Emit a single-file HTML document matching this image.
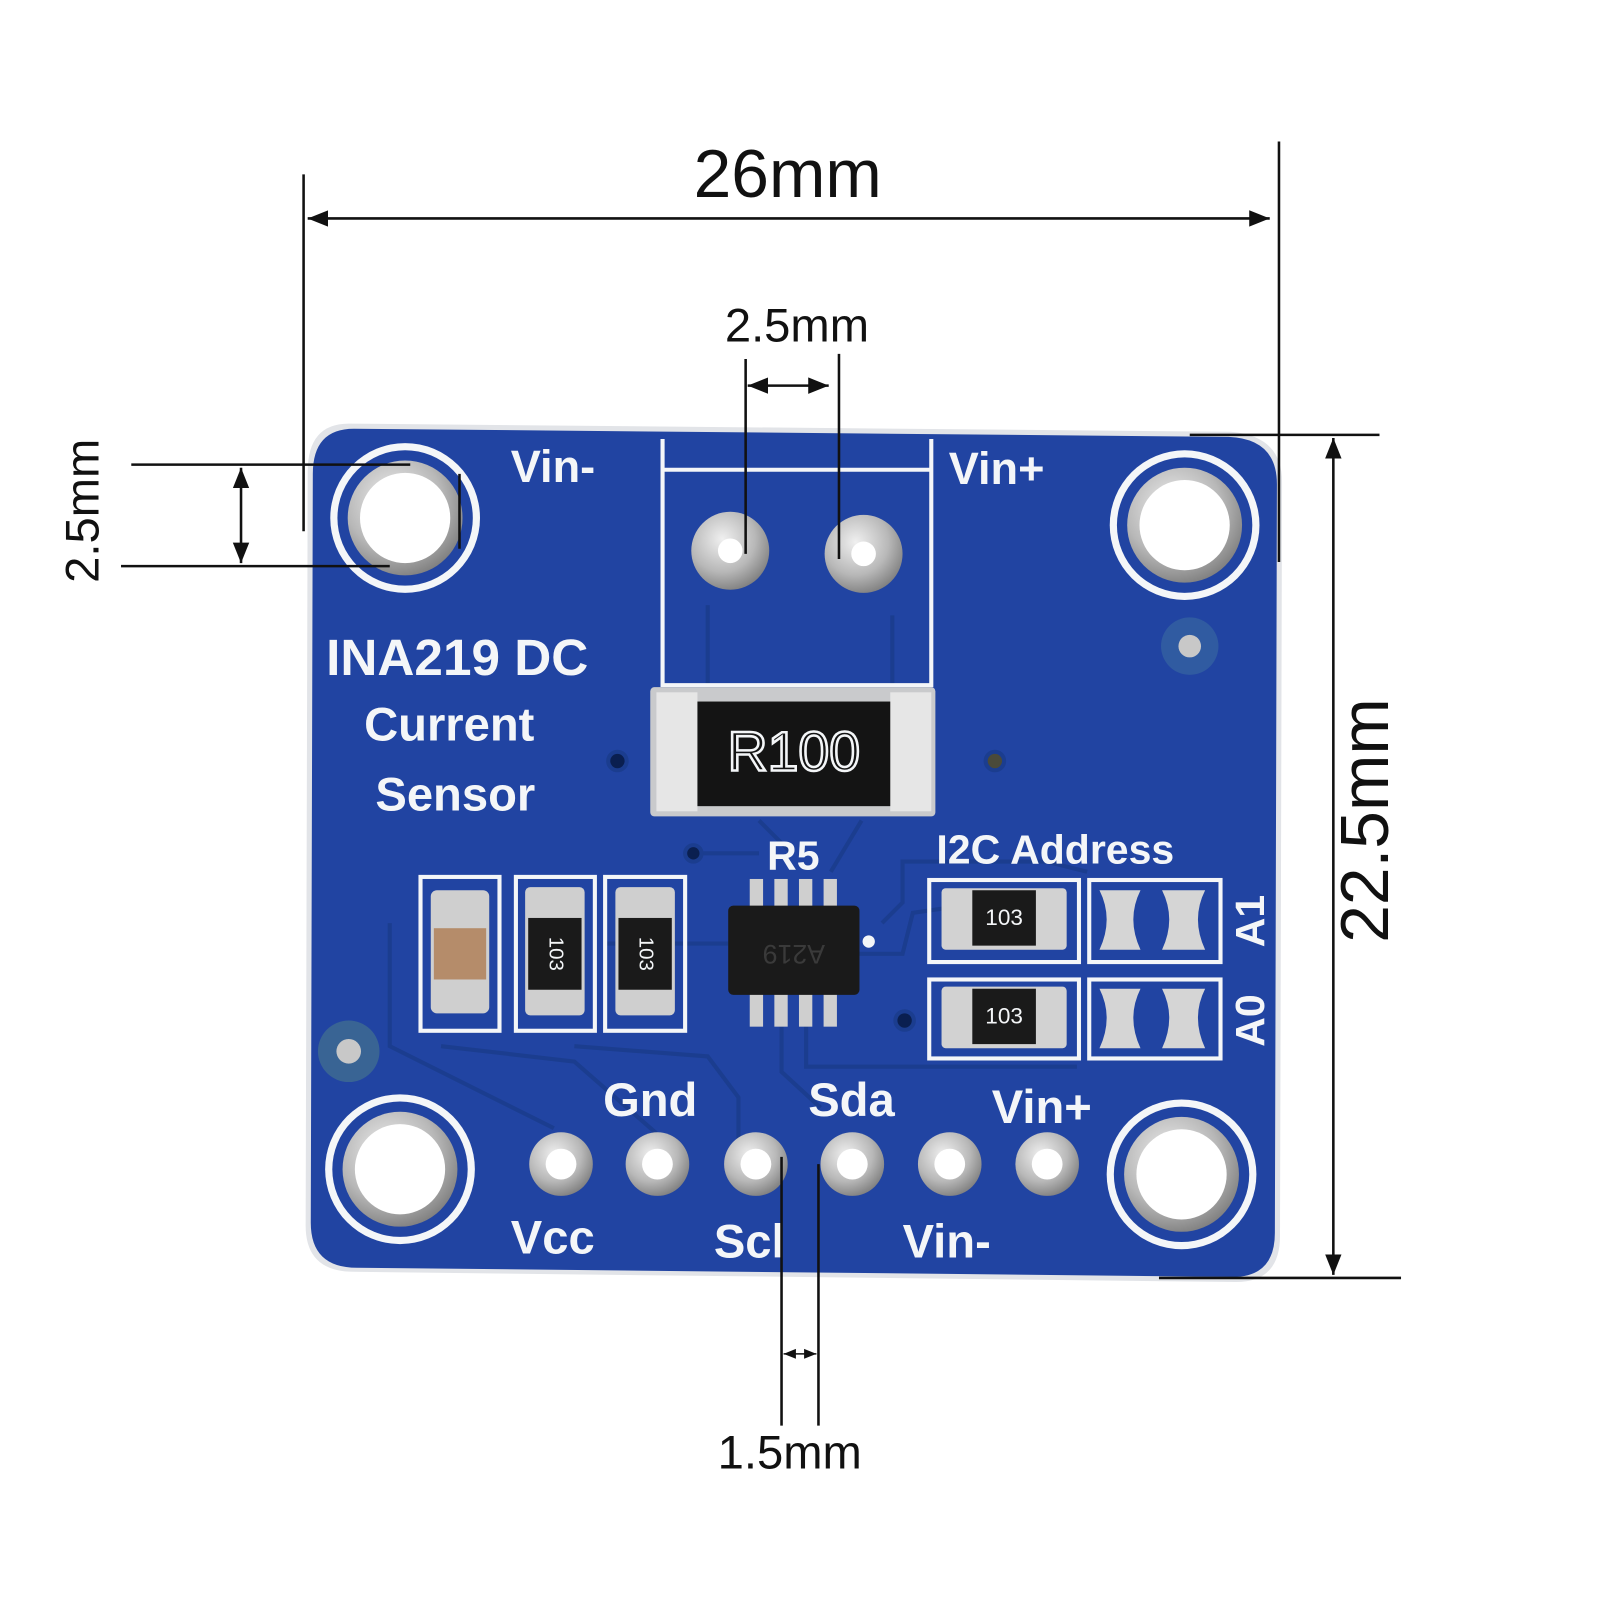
<!DOCTYPE html>
<html><head><meta charset="utf-8"><style>
html,body{margin:0;padding:0;background:#fff;}
svg{display:block}
.s{fill:#f4f6f8;font-family:"Liberation Sans",sans-serif;font-weight:bold}
.d{fill:#111;font-family:"Liberation Sans",sans-serif}
</style></head><body>
<svg width="1600" height="1600" viewBox="0 0 1560 1560" xmlns="http://www.w3.org/2000/svg">
<defs>
<radialGradient id="silver" cx="40%" cy="35%" r="70%"><stop offset="0" stop-color="#f0f0f0"/><stop offset="0.6" stop-color="#b8b8b8"/><stop offset="1" stop-color="#7c7c7c"/></radialGradient>
<marker id="ar" viewBox="0 0 10 10" refX="10" refY="5" markerWidth="8" markerHeight="8" orient="auto-start-reverse"><path d="M0,1 L10,5 L0,9 z" fill="#111"/></marker>
</defs>
<rect width="1560" height="1560" fill="#fff"/>
<path d="M340,413 L1200,421 Q1250,425 1250,470 L1248,1205 Q1248,1250 1205,1250 L345,1240 Q298,1240 298,1195 L300,460 Q300,413 340,413 Z" fill="#e2e4e8"/>
<path d="M345,418 L1198,426 Q1245,428 1245,472 L1243,1202 Q1243,1245 1202,1245 L348,1236 Q303,1236 303,1192 L305,462 Q305,418 345,418 Z" fill="#2144a2"/>
<g fill="none" stroke="#1b3d8f" stroke-width="4">
<path d="M380,900 L380,1020 L540,1100"/><path d="M430,1020 L560,1035 L640,1105"/>
<path d="M560,1020 L690,1030 L720,1070 L720,1110"/><path d="M762,1000 L762,1045 L800,1080"/>
<path d="M786,1000 L786,1040 L900,1040 L1050,1040"/><path d="M690,720 L690,600 L690,590 M870,600 L870,700"/>
<path d="M740,800 L770,830 M840,800 L810,850"/><path d="M860,900 L880,880 L880,840 L1020,840 L1060,850"/>
<path d="M838,930 L880,930 L890,890 L1030,870"/><path d="M670,832 L740,832"/><path d="M590,920 L710,920"/>
</g>
<g>
<g transform="translate(395,505)"><circle r="73" fill="#f4f6f8"/><circle r="66" fill="#2144a2"/><circle r="56" fill="url(#silver)"/><circle r="44" fill="#fff"/></g>
<g transform="translate(1155,512)"><circle r="73" fill="#f4f6f8"/><circle r="66" fill="#2144a2"/><circle r="56" fill="url(#silver)"/><circle r="44" fill="#fff"/></g>
<g transform="translate(390,1140)"><circle r="73" fill="#f4f6f8"/><circle r="66" fill="#2144a2"/><circle r="56" fill="url(#silver)"/><circle r="44" fill="#fff"/></g>
<g transform="translate(1152,1145)"><circle r="73" fill="#f4f6f8"/><circle r="66" fill="#2144a2"/><circle r="56" fill="url(#silver)"/><circle r="44" fill="#fff"/></g>
</g>
<g>
<circle cx="1160" cy="630" r="28" fill="#3a6aa0" opacity="0.6"/><circle cx="1160" cy="630" r="11" fill="#c8c8c8"/>
<circle cx="340" cy="1025" r="30" fill="#4a7a8a" opacity="0.6"/><circle cx="340" cy="1025" r="12" fill="#c8c8c8"/>
<circle cx="602" cy="742" r="9" fill="#0a1f50" stroke="#1b3d8f" stroke-width="4"/>
<circle cx="970" cy="742" r="9" fill="#4a4a3a" stroke="#1b3d8f" stroke-width="4"/>
<circle cx="676" cy="832" r="8" fill="#0a1f50" stroke="#1b3d8f" stroke-width="4"/>
<circle cx="882" cy="995" r="9" fill="#0a1f50" stroke="#1b3d8f" stroke-width="4"/>
<circle cx="847" cy="918" r="6" fill="#f4f6f8"/>
</g>
<path d="M646,428 L646,668 L908,668 L908,428 M646,458 L908,458" fill="none" stroke="#f4f6f8" stroke-width="4"/>
<circle cx="712" cy="537" r="38" fill="url(#silver)"/><circle cx="712" cy="537" r="12" fill="#fff"/>
<circle cx="842" cy="540" r="38" fill="url(#silver)"/><circle cx="842" cy="540" r="12" fill="#fff"/>
<rect x="634" y="670" width="278" height="126" rx="4" fill="#c9cacc"/>
<rect x="640" y="675" width="40" height="116" fill="#e6e6e6"/><rect x="868" y="675" width="40" height="116" fill="#e6e6e6"/>
<rect x="680" y="684" width="188" height="102" fill="#141414"/>
<text x="774" y="737" fill="none" stroke="#f4f6f8" stroke-width="2.5" font-family="Liberation Sans,sans-serif" font-size="54" text-anchor="middle" dominant-baseline="middle">R100</text>
<g fill="none" stroke="#f4f6f8" stroke-width="4">
<rect x="410" y="855" width="77" height="150"/><rect x="503" y="855" width="77" height="150"/><rect x="590" y="855" width="78" height="150"/>
<rect x="906" y="858" width="146" height="80"/><rect x="1062" y="858" width="128" height="80"/>
<rect x="906" y="955" width="146" height="77"/><rect x="1062" y="955" width="128" height="77"/>
</g>
<rect x="420" y="868" width="57" height="120" rx="6" fill="#cfcfcf"/><rect x="423" y="905" width="51" height="50" fill="#b58c6a"/>
<rect x="512" y="865" width="58" height="125" rx="5" fill="#cfcfcf"/><rect x="515" y="895" width="52" height="70" fill="#1a1a1a"/>
<text x="541" y="930" class="s" font-size="20" style="font-weight:normal" text-anchor="middle" dominant-baseline="middle" transform="rotate(90 541 930)">103</text>
<rect x="600" y="865" width="58" height="125" rx="5" fill="#cfcfcf"/><rect x="603" y="895" width="52" height="70" fill="#1a1a1a"/>
<text x="629" y="930" class="s" font-size="20" style="font-weight:normal" text-anchor="middle" dominant-baseline="middle" transform="rotate(90 629 930)">103</text>
<rect x="918" y="866" width="122" height="60" rx="4" fill="#d2d2d2"/><rect x="948" y="868" width="62" height="54" fill="#1a1a1a"/>
<text x="979" y="896" class="s" font-size="22" style="font-weight:normal" text-anchor="middle" dominant-baseline="middle">103</text>
<rect x="918" y="962" width="122" height="60" rx="4" fill="#d2d2d2"/><rect x="948" y="964" width="62" height="54" fill="#1a1a1a"/>
<text x="979" y="992" class="s" font-size="22" style="font-weight:normal" text-anchor="middle" dominant-baseline="middle">103</text>
<g fill="#d5d5d5">
<path d="M1072,868 h40 q-14,28 0,58 h-40 q14,-30 0,-58z"/><path d="M1133,868 h42 q-14,28 0,58 h-42 q14,-30 0,-58z"/>
<path d="M1072,964 h40 q-14,28 0,58 h-40 q14,-30 0,-58z"/><path d="M1133,964 h42 q-14,28 0,58 h-42 q14,-30 0,-58z"/>
</g>
<g fill="#cfcfcf">
<rect x="731" y="857" width="13" height="30"/><rect x="755" y="857" width="13" height="30"/><rect x="779" y="857" width="13" height="30"/><rect x="803" y="857" width="13" height="30"/>
<rect x="731" y="968" width="13" height="33"/><rect x="755" y="968" width="13" height="33"/><rect x="779" y="968" width="13" height="33"/><rect x="803" y="968" width="13" height="33"/>
</g>
<rect x="710" y="883" width="128" height="87" rx="5" fill="#1a1a1a"/>
<text x="774" y="928" font-family="Liberation Sans,sans-serif" font-size="26" fill="#3a3a3a" text-anchor="middle" dominant-baseline="middle" transform="rotate(180 774 928)">A219</text>
<g>
<g transform="translate(547,1135)"><circle r="31" fill="url(#silver)"/><circle r="15" fill="#fff"/></g>
<g transform="translate(641,1135)"><circle r="31" fill="url(#silver)"/><circle r="15" fill="#fff"/></g>
<g transform="translate(737,1135)"><circle r="31" fill="url(#silver)"/><circle r="15" fill="#fff"/></g>
<g transform="translate(831,1135)"><circle r="31" fill="url(#silver)"/><circle r="15" fill="#fff"/></g>
<g transform="translate(926,1135)"><circle r="31" fill="url(#silver)"/><circle r="15" fill="#fff"/></g>
<g transform="translate(1021,1135)"><circle r="31" fill="url(#silver)"/><circle r="15" fill="#fff"/></g>
</g>
<text x="498" y="470" class="s" font-size="44">Vin-</text>
<text x="925" y="472" class="s" font-size="44">Vin+</text>
<text x="318" y="658" class="s" font-size="50">INA219 DC</text>
<text x="355" y="722" class="s" font-size="46">Current</text>
<text x="366" y="790" class="s" font-size="46">Sensor</text>
<text x="748" y="848" class="s" font-size="40">R5</text>
<text x="913" y="842" class="s" font-size="40">I2C Address</text>
<text x="1222" y="898" class="s" font-size="40" text-anchor="middle" dominant-baseline="middle" transform="rotate(-90 1222 898)">A1</text>
<text x="1222" y="995" class="s" font-size="40" text-anchor="middle" dominant-baseline="middle" transform="rotate(-90 1222 995)">A0</text>
<text x="588" y="1088" class="s" font-size="46">Gnd</text>
<text x="788" y="1088" class="s" font-size="46">Sda</text>
<text x="967" y="1095" class="s" font-size="46">Vin+</text>
<text x="498" y="1222" class="s" font-size="46">Vcc</text>
<text x="696" y="1226" class="s" font-size="46">Scl</text>
<text x="880" y="1226" class="s" font-size="46">Vin-</text>
<g stroke="#111" stroke-width="2.5" fill="none">
<line x1="296" y1="170" x2="296" y2="518"/><line x1="1247" y1="138" x2="1247" y2="548"/>
<line x1="300" y1="213" x2="1238" y2="213" marker-start="url(#ar)" marker-end="url(#ar)"/>
<line x1="727" y1="350" x2="727" y2="540"/><line x1="818" y1="345" x2="818" y2="545"/>
<line x1="729" y1="376" x2="808" y2="376" marker-start="url(#ar)" marker-end="url(#ar)"/>
<line x1="128" y1="453" x2="400" y2="453"/><line x1="118" y1="552" x2="380" y2="552"/>
<line x1="235" y1="456" x2="235" y2="549" marker-start="url(#ar)" marker-end="url(#ar)"/>
<line x1="448" y1="462" x2="448" y2="535"/>
<line x1="1160" y1="424" x2="1345" y2="424"/><line x1="1130" y1="1246" x2="1366" y2="1246"/>
<line x1="1300" y1="427" x2="1300" y2="1243" marker-start="url(#ar)" marker-end="url(#ar)"/>
<line x1="762" y1="1128" x2="762" y2="1390"/><line x1="798" y1="1135" x2="798" y2="1390"/>
<line x1="764" y1="1320" x2="796" y2="1320" stroke-width="1.5" marker-start="url(#ar)" marker-end="url(#ar)"/>
</g>
<text x="768" y="192" class="d" font-size="66" text-anchor="middle">26mm</text>
<text x="777" y="333" class="d" font-size="46" text-anchor="middle">2.5mm</text>
<text x="84" y="498" class="d" font-size="46" text-anchor="middle" dominant-baseline="middle" transform="rotate(-90 84 498)">2.5mm</text>
<text x="1336" y="800" class="d" font-size="66" text-anchor="middle" dominant-baseline="middle" transform="rotate(-90 1336 800)">22.5mm</text>
<text x="770" y="1432" class="d" font-size="46" text-anchor="middle">1.5mm</text>
</svg>
</body></html>
